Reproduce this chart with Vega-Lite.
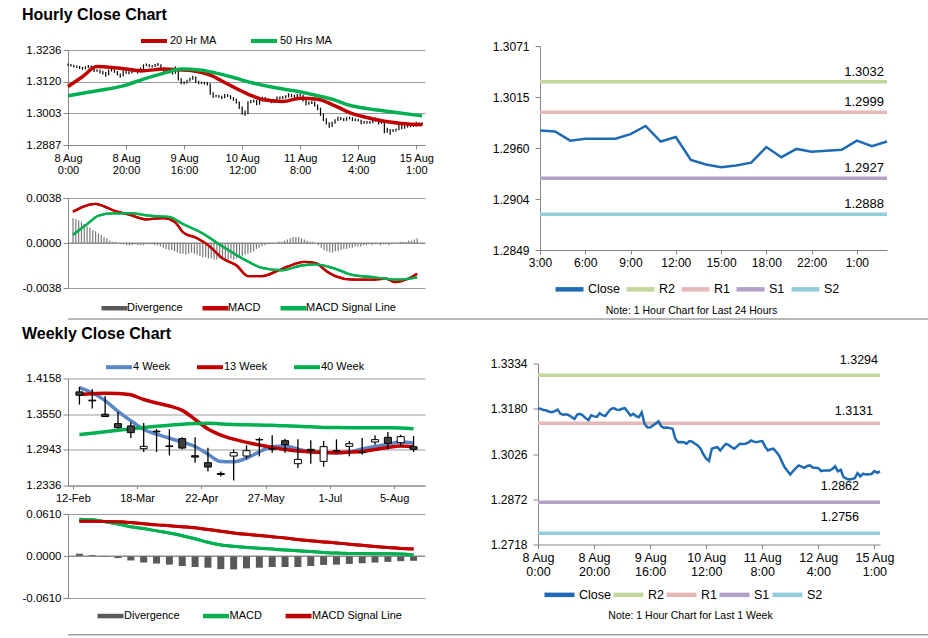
{
"$schema": "https://vega.github.io/schema/vega-lite/v6.json",
"background": "white",
"padding": {"left": 12, "top": 7, "right": 5, "bottom": 0},
"config": {
  "font": "Liberation Sans",
  "view": {"stroke": null},
  "axis": {"labelFont": "Liberation Sans", "labelColor": "#000000", "domainColor": "#868686", "tickColor": "#868686", "gridColor": "#9A9A9A", "domainWidth": 1, "tickWidth": 1},
  "legend": {"labelFont": "Liberation Sans", "labelColor": "#000000"},
  "title": {"font": "Liberation Sans", "color": "#000000"},
  "text": {"font": "Liberation Sans"}
},
"datasets": {
  "hourly": [
{"i":0,"c":1.3182,"h":1.3186,"l":1.3178,"d":0.0021},{"i":1,"c":1.3179,"h":1.3185,"l":1.3175,"d":0.0020},{"i":2,"c":1.3176,"h":1.3182,"l":1.3172,"d":0.0019},{"i":3,"c":1.3174,"h":1.3179,"l":1.3170,"d":0.0018},{"i":4,"c":1.3170,"h":1.3177,"l":1.3166,"d":0.0016},{"i":5,"c":1.3168,"h":1.3174,"l":1.3163,"d":0.0014},{"i":6,"c":1.3172,"h":1.3176,"l":1.3165,"d":0.0013},{"i":7,"c":1.3177,"h":1.3181,"l":1.3169,"d":0.0011},{"i":8,"c":1.3163,"h":1.3179,"l":1.3159,"d":0.0010},{"i":9,"c":1.3160,"h":1.3166,"l":1.3155,"d":0.0008},
{"i":10,"c":1.3161,"h":1.3165,"l":1.3156,"d":0.0007},{"i":11,"c":1.3158,"h":1.3164,"l":1.3150,"d":0.0005},{"i":12,"c":1.3152,"h":1.3160,"l":1.3146,"d":0.0004},{"i":13,"c":1.3145,"h":1.3155,"l":1.3138,"d":0.0002},{"i":14,"c":1.3160,"h":1.3164,"l":1.3143,"d":0.0001},{"i":15,"c":1.3163,"h":1.3168,"l":1.3157,"d":0.0001},{"i":16,"c":1.3157,"h":1.3165,"l":1.3152,"d":0.0000},{"i":17,"c":1.3148,"h":1.3159,"l":1.3142,"d":-0.0001},{"i":18,"c":1.3141,"h":1.3150,"l":1.3134,"d":-0.0001},{"i":19,"c":1.3158,"h":1.3162,"l":1.3139,"d":-0.0002},
{"i":20,"c":1.3154,"h":1.3161,"l":1.3149,"d":-0.0002},{"i":21,"c":1.3152,"h":1.3158,"l":1.3147,"d":-0.0002},{"i":22,"c":1.3165,"h":1.3169,"l":1.3150,"d":-0.0001},{"i":23,"c":1.3158,"h":1.3167,"l":1.3154,"d":-0.0002},{"i":24,"c":1.3155,"h":1.3161,"l":1.3150,"d":-0.0002},{"i":25,"c":1.3168,"h":1.3172,"l":1.3153,"d":-0.0002},{"i":26,"c":1.3179,"h":1.3183,"l":1.3166,"d":-0.0001},{"i":27,"c":1.3182,"h":1.3186,"l":1.3176,"d":-0.0001},{"i":28,"c":1.3177,"h":1.3184,"l":1.3173,"d":-0.0001},{"i":29,"c":1.3176,"h":1.3181,"l":1.3172,"d":-0.0002},
{"i":30,"c":1.3180,"h":1.3185,"l":1.3174,"d":-0.0002},{"i":31,"c":1.3182,"h":1.3188,"l":1.3177,"d":-0.0003},{"i":32,"c":1.3170,"h":1.3184,"l":1.3166,"d":-0.0004},{"i":33,"c":1.3157,"h":1.3172,"l":1.3152,"d":-0.0005},{"i":34,"c":1.3163,"h":1.3167,"l":1.3154,"d":-0.0006},{"i":35,"c":1.3155,"h":1.3165,"l":1.3150,"d":-0.0006},{"i":36,"c":1.3151,"h":1.3158,"l":1.3146,"d":-0.0007},{"i":37,"c":1.3168,"h":1.3175,"l":1.3149,"d":-0.0008},{"i":38,"c":1.3129,"h":1.3169,"l":1.3124,"d":-0.0009},{"i":39,"c":1.3117,"h":1.3132,"l":1.3110,"d":-0.0009},
{"i":40,"c":1.3116,"h":1.3121,"l":1.3110,"d":-0.0010},{"i":41,"c":1.3123,"h":1.3127,"l":1.3113,"d":-0.0009},{"i":42,"c":1.3130,"h":1.3134,"l":1.3120,"d":-0.0008},{"i":43,"c":1.3137,"h":1.3141,"l":1.3127,"d":-0.0009},{"i":44,"c":1.3120,"h":1.3139,"l":1.3115,"d":-0.0010},{"i":45,"c":1.3115,"h":1.3123,"l":1.3110,"d":-0.0011},{"i":46,"c":1.3116,"h":1.3120,"l":1.3111,"d":-0.0012},{"i":47,"c":1.3114,"h":1.3119,"l":1.3109,"d":-0.0012},{"i":48,"c":1.3112,"h":1.3118,"l":1.3106,"d":-0.0013},{"i":49,"c":1.3078,"h":1.3114,"l":1.3072,"d":-0.0013},
{"i":50,"c":1.3066,"h":1.3081,"l":1.3060,"d":-0.0014},{"i":51,"c":1.3067,"h":1.3072,"l":1.3062,"d":-0.0014},{"i":52,"c":1.3066,"h":1.3071,"l":1.3061,"d":-0.0013},{"i":53,"c":1.3061,"h":1.3068,"l":1.3056,"d":-0.0014},{"i":54,"c":1.3070,"h":1.3074,"l":1.3059,"d":-0.0015},{"i":55,"c":1.3068,"h":1.3074,"l":1.3063,"d":-0.0014},{"i":56,"c":1.3061,"h":1.3070,"l":1.3055,"d":-0.0013},{"i":57,"c":1.3055,"h":1.3063,"l":1.3049,"d":-0.0014},{"i":58,"c":1.3044,"h":1.3057,"l":1.3039,"d":-0.0013},{"i":59,"c":1.3025,"h":1.3047,"l":1.3019,"d":-0.0011},
{"i":60,"c":1.3010,"h":1.3028,"l":1.2998,"d":-0.0011},{"i":61,"c":1.3002,"h":1.3014,"l":1.2994,"d":-0.0010},{"i":62,"c":1.3044,"h":1.3048,"l":1.3000,"d":-0.0009},{"i":63,"c":1.3047,"h":1.3052,"l":1.3040,"d":-0.0008},{"i":64,"c":1.3049,"h":1.3054,"l":1.3043,"d":-0.0007},{"i":65,"c":1.3038,"h":1.3052,"l":1.3033,"d":-0.0005},{"i":66,"c":1.3050,"h":1.3054,"l":1.3035,"d":-0.0004},{"i":67,"c":1.3060,"h":1.3064,"l":1.3047,"d":-0.0003},{"i":68,"c":1.3057,"h":1.3063,"l":1.3052,"d":-0.0002},{"i":69,"c":1.3050,"h":1.3059,"l":1.3046,"d":-0.0001},
{"i":70,"c":1.3044,"h":1.3053,"l":1.3040,"d":-0.0001},{"i":71,"c":1.3052,"h":1.3056,"l":1.3041,"d":0.0000},{"i":72,"c":1.3061,"h":1.3065,"l":1.3049,"d":0.0000},{"i":73,"c":1.3060,"h":1.3065,"l":1.3055,"d":0.0001},{"i":74,"c":1.3061,"h":1.3066,"l":1.3056,"d":0.0001},{"i":75,"c":1.3065,"h":1.3070,"l":1.3058,"d":0.0002},{"i":76,"c":1.3072,"h":1.3077,"l":1.3062,"d":0.0003},{"i":77,"c":1.3068,"h":1.3075,"l":1.3063,"d":0.0004},{"i":78,"c":1.3066,"h":1.3072,"l":1.3061,"d":0.0005},{"i":79,"c":1.3069,"h":1.3074,"l":1.3063,"d":0.0005},
{"i":80,"c":1.3070,"h":1.3075,"l":1.3065,"d":0.0005},{"i":81,"c":1.3052,"h":1.3072,"l":1.3047,"d":0.0004},{"i":82,"c":1.3038,"h":1.3055,"l":1.3032,"d":0.0003},{"i":83,"c":1.3042,"h":1.3047,"l":1.3035,"d":0.0002},{"i":84,"c":1.3044,"h":1.3049,"l":1.3038,"d":0.0001},{"i":85,"c":1.3033,"h":1.3047,"l":1.3028,"d":0.0001},{"i":86,"c":1.3021,"h":1.3036,"l":1.3015,"d":0.0000},{"i":87,"c":1.3000,"h":1.3024,"l":1.2994,"d":-0.0002},{"i":88,"c":1.2981,"h":1.3003,"l":1.2975,"d":-0.0004},{"i":89,"c":1.2968,"h":1.2985,"l":1.2962,"d":-0.0006},
{"i":90,"c":1.2956,"h":1.2971,"l":1.2950,"d":-0.0007},{"i":91,"c":1.2968,"h":1.2972,"l":1.2953,"d":-0.0008},{"i":92,"c":1.2978,"h":1.2982,"l":1.2965,"d":-0.0008},{"i":93,"c":1.2987,"h":1.2991,"l":1.2975,"d":-0.0007},{"i":94,"c":1.2983,"h":1.2990,"l":1.2978,"d":-0.0007},{"i":95,"c":1.2979,"h":1.2986,"l":1.2974,"d":-0.0006},{"i":96,"c":1.2985,"h":1.2989,"l":1.2976,"d":-0.0005},{"i":97,"c":1.2987,"h":1.2991,"l":1.2981,"d":-0.0005},{"i":98,"c":1.2980,"h":1.2989,"l":1.2975,"d":-0.0004},{"i":99,"c":1.2979,"h":1.2984,"l":1.2974,"d":-0.0004},
{"i":100,"c":1.2978,"h":1.2983,"l":1.2973,"d":-0.0003},{"i":101,"c":1.2968,"h":1.2980,"l":1.2963,"d":-0.0003},{"i":102,"c":1.2970,"h":1.2975,"l":1.2965,"d":-0.0003},{"i":103,"c":1.2970,"h":1.2975,"l":1.2965,"d":-0.0002},{"i":104,"c":1.2970,"h":1.2975,"l":1.2965,"d":-0.0002},{"i":105,"c":1.2975,"h":1.2979,"l":1.2967,"d":-0.0001},{"i":106,"c":1.2984,"h":1.2988,"l":1.2972,"d":-0.0002},{"i":107,"c":1.2967,"h":1.2986,"l":1.2962,"d":-0.0001},{"i":108,"c":1.2972,"h":1.2976,"l":1.2964,"d":-0.0001},{"i":109,"c":1.2947,"h":1.2974,"l":1.2930,"d":-0.0002},
{"i":110,"c":1.2942,"h":1.2950,"l":1.2932,"d":-0.0001},{"i":111,"c":1.2939,"h":1.2946,"l":1.2925,"d":-0.0001},{"i":112,"c":1.2941,"h":1.2946,"l":1.2935,"d":-0.0002},{"i":113,"c":1.2944,"h":1.2948,"l":1.2937,"d":-0.0001},{"i":114,"c":1.2961,"h":1.2965,"l":1.2941,"d":0.0000},{"i":115,"c":1.2950,"h":1.2963,"l":1.2945,"d":0.0000},{"i":116,"c":1.2959,"h":1.2963,"l":1.2947,"d":0.0001},{"i":117,"c":1.2956,"h":1.2962,"l":1.2951,"d":0.0001},{"i":118,"c":1.2957,"h":1.2962,"l":1.2952,"d":0.0001},{"i":119,"c":1.2958,"h":1.2963,"l":1.2953,"d":0.0002},
{"i":120,"c":1.2968,"h":1.2972,"l":1.2955,"d":0.0002},{"i":121,"c":1.2962,"h":1.2970,"l":1.2957,"d":0.0003},{"i":122,"c":1.2967,"h":1.2971,"l":1.2959,"d":0.0004}
  ],
  "hma": [
{"s":"20 Hr MA","i":0,"v":1.3102},{"s":"20 Hr MA","i":5,"v":1.3138},{"s":"20 Hr MA","i":10,"v":1.3175},{"s":"20 Hr MA","i":15,"v":1.3172},{"s":"20 Hr MA","i":20,"v":1.3166},{"s":"20 Hr MA","i":26,"v":1.3160},{"s":"20 Hr MA","i":33,"v":1.3166},{"s":"20 Hr MA","i":38,"v":1.3163},{"s":"20 Hr MA","i":43,"v":1.3160},{"s":"20 Hr MA","i":49,"v":1.3144},{"s":"20 Hr MA","i":55,"v":1.3111},{"s":"20 Hr MA","i":62,"v":1.3074},{"s":"20 Hr MA","i":68,"v":1.3052},{"s":"20 Hr MA","i":74,"v":1.3047},{"s":"20 Hr MA","i":80,"v":1.3059},{"s":"20 Hr MA","i":86,"v":1.3055},{"s":"20 Hr MA","i":92,"v":1.3031},{"s":"20 Hr MA","i":97,"v":1.3006},{"s":"20 Hr MA","i":103,"v":1.2988},{"s":"20 Hr MA","i":109,"v":1.2974},{"s":"20 Hr MA","i":115,"v":1.2966},{"s":"20 Hr MA","i":122,"v":1.2961},
{"s":"50 Hrs MA","i":0,"v":1.3068},{"s":"50 Hrs MA","i":10,"v":1.3086},{"s":"50 Hrs MA","i":19,"v":1.3104},{"s":"50 Hrs MA","i":26,"v":1.3129},{"s":"50 Hrs MA","i":33,"v":1.3151},{"s":"50 Hrs MA","i":39,"v":1.3166},{"s":"50 Hrs MA","i":46,"v":1.3162},{"s":"50 Hrs MA","i":51,"v":1.3151},{"s":"50 Hrs MA","i":57,"v":1.3135},{"s":"50 Hrs MA","i":64,"v":1.3114},{"s":"50 Hrs MA","i":71,"v":1.3098},{"s":"50 Hrs MA","i":78,"v":1.3086},{"s":"50 Hrs MA","i":86,"v":1.3068},{"s":"50 Hrs MA","i":92,"v":1.3052},{"s":"50 Hrs MA","i":97,"v":1.3033},{"s":"50 Hrs MA","i":103,"v":1.3021},{"s":"50 Hrs MA","i":109,"v":1.3012},{"s":"50 Hrs MA","i":115,"v":1.3004},{"s":"50 Hrs MA","i":122,"v":1.2994}
  ],
  "hmacd": [
{"s":"MACD","i":0,"v":0.00265},{"s":"MACD","i":4,"v":0.0031},{"s":"MACD","i":8,"v":0.0033},{"s":"MACD","i":11,"v":0.0031},{"s":"MACD","i":15,"v":0.0027},{"s":"MACD","i":20,"v":0.0024},{"s":"MACD","i":26,"v":0.0020},{"s":"MACD","i":32,"v":0.0021},{"s":"MACD","i":36,"v":0.0018},{"s":"MACD","i":39,"v":0.0009},{"s":"MACD","i":44,"v":0.0004},{"s":"MACD","i":48,"v":-0.0002},{"s":"MACD","i":53,"v":-0.0013},{"s":"MACD","i":58,"v":-0.0019},{"s":"MACD","i":62,"v":-0.0028},{"s":"MACD","i":67,"v":-0.0028},{"s":"MACD","i":72,"v":-0.0024},{"s":"MACD","i":76,"v":-0.0020},{"s":"MACD","i":82,"v":-0.0016},{"s":"MACD","i":86,"v":-0.0017},{"s":"MACD","i":90,"v":-0.0024},{"s":"MACD","i":93,"v":-0.0028},{"s":"MACD","i":99,"v":-0.0031},{"s":"MACD","i":106,"v":-0.0031},{"s":"MACD","i":111,"v":-0.0030},{"s":"MACD","i":114,"v":-0.0033},{"s":"MACD","i":119,"v":-0.0030},{"s":"MACD","i":122,"v":-0.0026},
{"s":"MACD Signal Line","i":0,"v":0.0007},{"s":"MACD Signal Line","i":5,"v":0.0016},{"s":"MACD Signal Line","i":9,"v":0.0023},{"s":"MACD Signal Line","i":14,"v":0.0025},{"s":"MACD Signal Line","i":21,"v":0.0025},{"s":"MACD Signal Line","i":27,"v":0.0023},{"s":"MACD Signal Line","i":34,"v":0.0022},{"s":"MACD Signal Line","i":39,"v":0.0016},{"s":"MACD Signal Line","i":46,"v":0.0008},{"s":"MACD Signal Line","i":53,"v":-0.0003},{"s":"MACD Signal Line","i":60,"v":-0.0013},{"s":"MACD Signal Line","i":67,"v":-0.0021},{"s":"MACD Signal Line","i":74,"v":-0.0023},{"s":"MACD Signal Line","i":81,"v":-0.0019},{"s":"MACD Signal Line","i":86,"v":-0.0018},{"s":"MACD Signal Line","i":92,"v":-0.0021},{"s":"MACD Signal Line","i":99,"v":-0.0027},{"s":"MACD Signal Line","i":107,"v":-0.0029},{"s":"MACD Signal Line","i":115,"v":-0.0031},{"s":"MACD Signal Line","i":122,"v":-0.0029}
  ],
  "weekly": [
{"k":0,"o":1.3930,"h":1.4016,"l":1.3714,"c":1.3873,"w4":1.4004,"w13":1.3890,"w40":1.3202,"dv":0.0034,"macd":0.0535,"sig":0.0506},
{"k":1,"o":1.3790,"h":1.3976,"l":1.3646,"c":1.3777,"w4":1.3915,"w13":1.3900,"w40":1.3225,"dv":0.0015,"macd":0.0525,"sig":0.0505},
{"k":2,"o":1.3549,"h":1.3862,"l":1.3503,"c":1.3509,"w4":1.3780,"w13":1.3905,"w40":1.3250,"dv":-0.0010,"macd":0.0497,"sig":0.0502},
{"k":3,"o":1.3390,"h":1.3589,"l":1.3304,"c":1.3322,"w4":1.3600,"w13":1.3903,"w40":1.3275,"dv":-0.0030,"macd":0.0465,"sig":0.0497},
{"k":4,"o":1.3350,"h":1.3418,"l":1.3145,"c":1.3236,"w4":1.3440,"w13":1.3880,"w40":1.3300,"dv":-0.0065,"macd":0.0425,"sig":0.0485},
{"k":5,"o":1.2963,"h":1.3401,"l":1.2906,"c":1.3003,"w4":1.3290,"w13":1.3800,"w40":1.3325,"dv":-0.0095,"macd":0.0398,"sig":0.0470},
{"k":6,"o":1.3262,"h":1.3300,"l":1.2906,"c":1.3250,"w4":1.3210,"w13":1.3740,"w40":1.3345,"dv":-0.0110,"macd":0.0365,"sig":0.0452},
{"k":7,"o":1.3010,"h":1.3293,"l":1.2849,"c":1.3000,"w4":1.3140,"w13":1.3690,"w40":1.3362,"dv":-0.0125,"macd":0.0335,"sig":0.0440},
{"k":8,"o":1.3134,"h":1.3156,"l":1.2952,"c":1.2974,"w4":1.3075,"w13":1.3615,"w40":1.3380,"dv":-0.0145,"macd":0.0295,"sig":0.0425},
{"k":9,"o":1.2843,"h":1.3156,"l":1.2724,"c":1.2820,"w4":1.3000,"w13":1.3460,"w40":1.3392,"dv":-0.0160,"macd":0.0250,"sig":0.0410},
{"k":10,"o":1.2724,"h":1.2980,"l":1.2576,"c":1.2650,"w4":1.2870,"w13":1.3300,"w40":1.3398,"dv":-0.0170,"macd":0.0200,"sig":0.0385},
{"k":11,"o":1.2541,"h":1.2576,"l":1.2491,"c":1.2524,"w4":1.2745,"w13":1.3195,"w40":1.3385,"dv":-0.0190,"macd":0.0160,"sig":0.0360},
{"k":12,"o":1.2838,"h":1.2952,"l":1.2422,"c":1.2895,"w4":1.2740,"w13":1.3125,"w40":1.3375,"dv":-0.0195,"macd":0.0140,"sig":0.0335},
{"k":13,"o":1.2838,"h":1.3020,"l":1.2792,"c":1.2929,"w4":1.2800,"w13":1.3070,"w40":1.3370,"dv":-0.0180,"macd":0.0125,"sig":0.0315},
{"k":14,"o":1.3120,"h":1.3151,"l":1.2832,"c":1.3112,"w4":1.2910,"w13":1.3025,"w40":1.3365,"dv":-0.0170,"macd":0.0112,"sig":0.0298},
{"k":15,"o":1.2960,"h":1.3190,"l":1.2895,"c":1.2955,"w4":1.2995,"w13":1.2985,"w40":1.3360,"dv":-0.0160,"macd":0.0100,"sig":0.0280},
{"k":16,"o":1.3099,"h":1.3133,"l":1.2895,"c":1.3031,"w4":1.3010,"w13":1.2948,"w40":1.3352,"dv":-0.0160,"macd":0.0088,"sig":0.0262},
{"k":17,"o":1.2707,"h":1.3122,"l":1.2633,"c":1.2781,"w4":1.2955,"w13":1.2922,"w40":1.3345,"dv":-0.0160,"macd":0.0075,"sig":0.0240},
{"k":18,"o":1.2952,"h":1.3105,"l":1.2707,"c":1.2929,"w4":1.2912,"w13":1.2908,"w40":1.3335,"dv":-0.0145,"macd":0.0065,"sig":0.0222},
{"k":19,"o":1.2747,"h":1.3094,"l":1.2656,"c":1.2997,"w4":1.2897,"w13":1.2897,"w40":1.3325,"dv":-0.0130,"macd":0.0052,"sig":0.0205},
{"k":20,"o":1.2930,"h":1.3122,"l":1.2895,"c":1.2925,"w4":1.2890,"w13":1.2895,"w40":1.3322,"dv":-0.0125,"macd":0.0042,"sig":0.0190},
{"k":21,"o":1.3003,"h":1.3094,"l":1.2832,"c":1.3048,"w4":1.2905,"w13":1.2904,"w40":1.3321,"dv":-0.0115,"macd":0.0036,"sig":0.0172},
{"k":22,"o":1.2895,"h":1.3145,"l":1.2860,"c":1.2900,"w4":1.2960,"w13":1.2916,"w40":1.3321,"dv":-0.0105,"macd":0.0035,"sig":0.0155},
{"k":23,"o":1.3077,"h":1.3190,"l":1.3031,"c":1.3117,"w4":1.3000,"w13":1.2950,"w40":1.3320,"dv":-0.0095,"macd":0.0034,"sig":0.0138},
{"k":24,"o":1.3156,"h":1.3247,"l":1.2952,"c":1.3054,"w4":1.3040,"w13":1.2984,"w40":1.3318,"dv":-0.0085,"macd":0.0033,"sig":0.0122},
{"k":25,"o":1.3065,"h":1.3202,"l":1.3008,"c":1.3168,"w4":1.3075,"w13":1.3008,"w40":1.3315,"dv":-0.0075,"macd":0.0030,"sig":0.0110},
{"k":26,"o":1.2997,"h":1.3179,"l":1.2906,"c":1.2952,"w4":1.3058,"w13":1.2997,"w40":1.3304,"dv":-0.0070,"macd":0.0015,"sig":0.0100}
  ],
  "lv1": [{"s":"R2","v":1.3032},{"s":"R1","v":1.2999},{"s":"S1","v":1.2927},{"s":"S2","v":1.2888}],
  "lv2": [{"s":"R2","v":1.3294},{"s":"R1","v":1.3131},{"s":"S1","v":1.2862},{"s":"S2","v":1.2756}]
},
"resolve": {"scale": {"color": "independent", "x": "independent", "y": "independent"}, "legend": {"color": "independent"}},
"spacing": 5.5,
"vconcat": [
 {"resolve": {"scale": {"color": "independent", "x": "independent", "y": "independent"}, "legend": {"color": "independent"}},
  "spacing": 0,
  "vconcat": [
  {"title": {"text": "Hourly Close Chart", "anchor": "start", "fontSize": 16, "fontWeight": "bold", "dx": 10, "offset": 2.6},
   "resolve": {"scale": {"color": "independent", "x": "independent", "y": "independent"}, "legend": {"color": "independent"}},
   "spacing": 58,
   "hconcat": [
    {"resolve": {"scale": {"color": "independent", "x": "independent", "y": "independent"}, "legend": {"color": "independent"}},
     "spacing": 17,
     "vconcat": [
      {"width": 357, "height": 99,
       "layer": [
        {"data": {"name": "hourly"}, "mark": {"type": "rule", "color": "#000000", "strokeWidth": 1.2},
         "encoding": {
          "x": {"field": "i", "type": "quantitative", "scale": {"domain": [0, 123], "nice": false, "zero": false},
                "axis": {"values": [0,20,40,60,80,100,120], "labelExpr": "[['8 Aug','0:00'],['8 Aug','20:00'],['9 Aug','16:00'],['10 Aug','12:00'],['11 Aug','8:00'],['12 Aug','4:00'],['15 Aug','1:00']][round(datum.value/20)]", "title": null, "grid": false, "tickSize": 4, "tickCount": 10, "labelFontSize": 11, "labelLineHeight": 12, "labelPadding": 3, "labelFlush": false, "labelOverlap": false}},
          "y": {"field": "l", "type": "quantitative", "scale": {"domain": [1.2887, 1.3236], "range": [99, 4], "nice": false, "zero": false},
                "axis": {"values": [1.2887, 1.30033, 1.31197, 1.3236], "tickCount": 10, "format": ".4f", "title": null, "grid": true, "tickSize": 5, "labelFontSize": 11.5, "labelPadding": 2, "labelOverlap": false, "minExtent": 56, "maxExtent": 56}},
          "y2": {"field": "h"}}},
        {"data": {"name": "hma"}, "mark": {"type": "line", "strokeWidth": 3.5, "interpolate": "monotone"},
         "encoding": {
          "x": {"field": "i", "type": "quantitative"},
          "y": {"field": "v", "type": "quantitative"},
          "color": {"field": "s", "type": "nominal", "title": null, "scale": {"domain": ["20 Hr MA", "50 Hrs MA"], "range": ["#C00000", "#00B050"]},
                    "legend": {"orient": "none", "legendX": 71, "legendY": -20, "direction": "horizontal", "title": null, "symbolType": "stroke", "symbolSize": 676, "symbolStrokeWidth": 4, "labelFontSize": 11, "labelOffset": 1, "columnPadding": 26, "padding": 0}}}}
       ]},
      {"width": 357, "height": 90,
       "layer": [
        {"data": {"name": "hmacd"}, "mark": {"type": "line", "strokeWidth": 2.3, "interpolate": "monotone"},
         "encoding": {
          "x": {"field": "i", "type": "quantitative", "scale": {"domain": [0, 123], "nice": false, "zero": false}, "axis": null},
          "y": {"field": "v", "type": "quantitative", "scale": {"domain": [-0.0038, 0.0038], "nice": false},
                "axis": {"values": [-0.0038, 0, 0.0038], "tickCount": 10, "format": ".4f", "labelExpr": "replace(datum.label, '−', '-')", "title": null, "grid": true, "tickSize": 5, "labelFontSize": 11.5, "labelPadding": 2, "labelOverlap": false, "minExtent": 56, "maxExtent": 56}},
          "color": {"field": "s", "type": "nominal", "title": null, "scale": {"domain": ["Divergence", "MACD", "MACD Signal Line"], "range": ["#595959", "#C00000", "#00B050"]},
                    "legend": {"orient": "none", "legendX": 31, "legendY": 94.5, "direction": "horizontal", "title": null, "symbolType": "stroke", "symbolSize": 676, "symbolStrokeWidth": 4.5, "labelFontSize": 11, "labelOffset": -3, "columnPadding": 10, "padding": 0}}}},
        {"data": {"name": "hourly"}, "mark": {"type": "bar", "size": 1.2, "color": "#7A7A7A"},
         "encoding": {
          "x": {"field": "i", "type": "quantitative"},
          "y": {"field": "d", "type": "quantitative"}}},
        {"data": {"values": [{}]}, "mark": {"type": "rule", "color": "#868686", "strokeWidth": 1},
         "encoding": {"y": {"datum": 0}}},
        {"data": {"name": "hmacd"}, "mark": {"type": "line", "strokeWidth": 2.3, "interpolate": "monotone"},
         "encoding": {
          "x": {"field": "i", "type": "quantitative"},
          "y": {"field": "v", "type": "quantitative"},
          "color": {"field": "s", "type": "nominal", "title": null}}}
       ]}
     ]},
    {"width": 347, "height": 204,
     "layer": [
      {"data": {"name": "lv1"}, "mark": {"type": "rule", "strokeWidth": 3.5},
       "encoding": {
        "y": {"field": "v", "type": "quantitative", "scale": {"domain": [1.2849, 1.3071], "nice": false, "zero": false},
              "axis": {"values": [1.2849, 1.2904, 1.296, 1.3015, 1.3071], "tickCount": 10, "format": ".4f", "title": null, "grid": false, "tickSize": 5, "labelFontSize": 12, "labelPadding": 6, "labelOverlap": false, "minExtent": 48, "maxExtent": 48}},
        "color": {"field": "s", "type": "nominal", "title": null, "scale": {"domain": ["Close", "R2", "R1", "S1", "S2"], "range": ["#1F6BB3", "#C3D69B", "#E6B9B8", "#B3A2C7", "#93CDDD"]},
                  "legend": {"orient": "none", "legendX": 13, "legendY": 226.6, "direction": "horizontal", "title": null, "symbolType": "stroke", "symbolSize": 784, "symbolStrokeWidth": 4.5, "labelFontSize": 12.5, "labelOffset": 2, "columnPadding": -3, "padding": 0}}}},
      {"data": {"name": "hourly"}, "transform": [{"filter": "datum.i >= 99"}], "mark": {"type": "line", "strokeWidth": 2.5},
       "encoding": {
        "x": {"field": "i", "type": "quantitative", "scale": {"domain": [99, 122], "nice": false, "zero": false},
              "axis": {"values": [99,102,105,108,111,114,117,120], "tickCount": 10, "labelExpr": "['3:00','6:00','9:00','12:00','15:00','18:00','22:00','1:00'][round((datum.value-99)/3)]", "title": "Note: 1 Hour Chart for Last 24 Hours", "titleFontSize": 10.5, "titleFontWeight": "normal", "titleX": 151, "titleY": 60, "titleBaseline": "middle", "titleAlign": "center", "grid": false, "tickSize": 4, "labelFontSize": 12, "labelPadding": 3, "labelFlush": false, "labelOverlap": false}},
        "y": {"field": "c", "type": "quantitative"},
        "color": {"datum": "Close"}}},
      {"data": {"name": "lv1"}, "mark": {"type": "text", "align": "right", "baseline": "middle", "dx": -3, "dy": -10, "fontSize": 13, "color": "#000000"},
       "encoding": {
        "x": {"datum": 122},
        "y": {"field": "v", "type": "quantitative"},
        "text": {"field": "v", "type": "quantitative", "format": ".4f"}}}
     ]}
   ]},
  {"width": 903, "height": 1, "data": {"values": [{}]}, "mark": {"type": "rule", "color": "#A0A0A0", "strokeWidth": 1.5},
   "encoding": {"x": {"datum": 0, "scale": {"domain": [0, 1], "nice": false}, "axis": null}, "x2": {"datum": 1},
                "y": {"datum": 0, "scale": {"domain": [0, 1]}, "axis": null}}}
 ]},
 {"resolve": {"scale": {"color": "independent", "x": "independent", "y": "independent"}, "legend": {"color": "independent"}},
  "spacing": 8.2,
  "vconcat": [
  {"title": {"text": "Weekly Close Chart", "anchor": "start", "fontSize": 16, "fontWeight": "bold", "dx": 10, "offset": 10.7},
   "resolve": {"scale": {"color": "independent", "x": "independent", "y": "independent"}, "legend": {"color": "independent"}},
   "spacing": 64,
   "hconcat": [
    {"resolve": {"scale": {"color": "independent", "x": "independent", "y": "independent"}, "legend": {"color": "independent"}},
     "spacing": 4.5,
     "vconcat": [
      {"width": 357, "height": 122,
       "layer": [
        {"data": {"name": "weekly"}, "transform": [{"fold": ["w4", "w13", "w40"], "as": ["s", "v"]}], "mark": {"type": "line", "strokeWidth": 3.5, "interpolate": "monotone"},
         "encoding": {
          "x": {"field": "k", "type": "quantitative", "scale": {"domain": [-0.5, 26.5], "nice": false, "zero": false},
                "axis": {"values": [0,5,10,15,20,25], "tickCount": 10, "labelExpr": "['12-Feb','18-Mar','22-Apr','27-May','1-Jul','5-Aug'][round(datum.value/5)]", "tickOffset": -6.6, "title": null, "grid": false, "tickSize": 3, "labelFontSize": 11, "labelPadding": 4, "labelFlush": false, "labelOverlap": false}},
          "y": {"field": "v", "type": "quantitative", "scale": {"domain": [1.2336, 1.4158], "range": [122, 15], "nice": false, "zero": false},
                "axis": {"values": [1.2336, 1.29433, 1.35497, 1.4158], "tickCount": 10, "format": ".4f", "title": null, "grid": true, "tickSize": 5, "labelFontSize": 11.5, "labelPadding": 2, "labelOverlap": false, "minExtent": 56, "maxExtent": 56}},
          "color": {"field": "s", "type": "nominal", "title": null, "scale": {"domain": ["w4", "w13", "w40"], "range": ["#5B87C6", "#C00000", "#00B050"]},
                    "legend": {"orient": "none", "legendX": 36, "legendY": -11.3, "direction": "horizontal", "title": null, "symbolType": "stroke", "symbolSize": 676, "symbolStrokeWidth": 4, "labelFontSize": 11, "labelOffset": -1, "columnPadding": 18, "padding": 0,
                               "labelExpr": "datum.label=='w4'?'4 Week':datum.label=='w13'?'13 Week':'40 Week'"}}}},
        {"data": {"name": "weekly"}, "mark": {"type": "rule", "color": "#000000", "strokeWidth": 1.3},
         "encoding": {
          "x": {"field": "k", "type": "quantitative"},
          "y": {"field": "l", "type": "quantitative"},
          "y2": {"field": "h"}}},
        {"data": {"name": "weekly"}, "mark": {"type": "bar", "size": 7, "stroke": "#000000", "strokeWidth": 1},
         "encoding": {
          "x": {"field": "k", "type": "quantitative"},
          "y": {"field": "o", "type": "quantitative"},
          "y2": {"field": "c"},
          "fill": {"condition": {"test": "datum.c < datum.o", "value": "#404040"}, "value": "#FFFFFF"}}}
       ]},
      {"width": 357, "height": 84,
       "layer": [
        {"data": {"name": "weekly"}, "transform": [{"fold": ["macd", "sig"], "as": ["s", "v"]}], "mark": {"type": "line", "strokeWidth": 3, "interpolate": "monotone"},
         "encoding": {
          "x": {"field": "k", "type": "quantitative", "scale": {"domain": [-0.5, 26.5], "nice": false, "zero": false}, "axis": null},
          "y": {"field": "v", "type": "quantitative", "scale": {"domain": [-0.061, 0.061], "nice": false},
                "axis": {"values": [-0.061, 0, 0.061], "tickCount": 10, "format": ".4f", "labelExpr": "replace(datum.label, '−', '-')", "title": null, "grid": true, "tickSize": 5, "labelFontSize": 11.5, "labelPadding": 2, "labelOverlap": false, "minExtent": 56, "maxExtent": 56}},
          "color": {"field": "s", "type": "nominal", "title": null, "scale": {"domain": ["dv", "macd", "sig"], "range": ["#595959", "#00B050", "#C00000"]},
                    "legend": {"orient": "none", "legendX": 27, "legendY": 86.3, "direction": "horizontal", "title": null, "symbolType": "stroke", "symbolSize": 676, "symbolStrokeWidth": 4.5, "labelFontSize": 11, "labelOffset": -2, "columnPadding": 13.5, "padding": 0,
                               "labelExpr": "datum.label=='dv'?'Divergence':datum.label=='macd'?'MACD':'MACD Signal Line'"}}}},
        {"data": {"name": "weekly"}, "mark": {"type": "bar", "size": 7, "color": "#595959"},
         "encoding": {
          "x": {"field": "k", "type": "quantitative"},
          "y": {"field": "dv", "type": "quantitative"}}},
        {"data": {"values": [{}]}, "mark": {"type": "rule", "color": "#868686", "strokeWidth": 1},
         "encoding": {"y": {"datum": 0}}},
        {"data": {"name": "weekly"}, "transform": [{"fold": ["macd", "sig"], "as": ["s", "v"]}], "mark": {"type": "line", "strokeWidth": 3, "interpolate": "monotone"},
         "encoding": {
          "x": {"field": "k", "type": "quantitative"},
          "y": {"field": "v", "type": "quantitative"},
          "color": {"field": "s", "type": "nominal", "title": null}}}
       ]}
     ]},
    {"width": 342, "height": 181,
     "layer": [
      {"data": {"name": "lv2"}, "mark": {"type": "rule", "strokeWidth": 3.5},
       "encoding": {
        "y": {"field": "v", "type": "quantitative", "scale": {"domain": [1.2718, 1.3334], "nice": false, "zero": false},
              "axis": {"values": [1.2718, 1.2872, 1.3026, 1.318, 1.3334], "tickCount": 10, "format": ".4f", "title": null, "grid": false, "tickSize": 5, "labelFontSize": 12, "labelPadding": 6, "labelOverlap": false, "minExtent": 48, "maxExtent": 48}},
        "color": {"field": "s", "type": "nominal", "title": null, "scale": {"domain": ["Close", "R2", "R1", "S1", "S2"], "range": ["#1F6BB3", "#C3D69B", "#E6B9B8", "#B3A2C7", "#93CDDD"]},
                  "legend": {"orient": "none", "legendX": 4, "legendY": 213.6, "direction": "horizontal", "title": null, "symbolType": "stroke", "symbolSize": 900, "symbolStrokeWidth": 4.5, "labelFontSize": 12.5, "labelOffset": 2, "columnPadding": -10, "padding": 0}}}},
      {"data": {"name": "hourly"}, "mark": {"type": "line", "strokeWidth": 2.5},
       "encoding": {
        "x": {"field": "i", "type": "quantitative", "scale": {"domain": [0, 122], "nice": false, "zero": false},
              "axis": {"values": [0,20,40,60,80,100,120], "tickCount": 10, "labelExpr": "[['8 Aug','0:00'],['8 Aug','20:00'],['9 Aug','16:00'],['10 Aug','12:00'],['11 Aug','8:00'],['12 Aug','4:00'],['15 Aug','1:00']][round(datum.value/20)]", "title": "Note: 1 Hour Chart for Last 1 Week", "titleFontSize": 10.5, "titleFontWeight": "normal", "titleX": 152, "titleY": 71, "titleBaseline": "middle", "titleAlign": "center", "grid": false, "tickSize": 4, "labelFontSize": 12.5, "labelLineHeight": 14, "labelPadding": 3, "labelFlush": false, "labelOverlap": false}},
        "y": {"field": "c", "type": "quantitative"},
        "color": {"datum": "Close"}}},
      {"data": {"name": "lv2"}, "transform": [{"filter": "datum.s == 'R2'"}], "mark": {"type": "text", "align": "right", "baseline": "middle", "dx": -2, "dy": -15, "fontSize": 12.5, "color": "#000000"},
       "encoding": {"x": {"datum": 122}, "y": {"field": "v", "type": "quantitative"}, "text": {"field": "v", "type": "quantitative", "format": ".4f"}}},
      {"data": {"name": "lv2"}, "transform": [{"filter": "datum.s == 'R1'"}], "mark": {"type": "text", "align": "right", "baseline": "middle", "dx": -7, "dy": -12, "fontSize": 12.5, "color": "#000000"},
       "encoding": {"x": {"datum": 122}, "y": {"field": "v", "type": "quantitative"}, "text": {"field": "v", "type": "quantitative", "format": ".4f"}}},
      {"data": {"name": "lv2"}, "transform": [{"filter": "datum.s == 'S1' || datum.s == 'S2'"}], "mark": {"type": "text", "align": "right", "baseline": "middle", "dx": -21, "dy": -16, "fontSize": 12.5, "color": "#000000"},
       "encoding": {"x": {"datum": 122}, "y": {"field": "v", "type": "quantitative"}, "text": {"field": "v", "type": "quantitative", "format": ".4f"}}}
     ]}
   ]},
  {"width": 903, "height": 1, "data": {"values": [{}]}, "mark": {"type": "rule", "color": "#A0A0A0", "strokeWidth": 1.5},
   "encoding": {"x": {"datum": 0, "scale": {"domain": [0, 1], "nice": false}, "axis": null}, "x2": {"datum": 1},
                "y": {"datum": 0, "scale": {"domain": [0, 1]}, "axis": null}}}
 ]}
]
}
